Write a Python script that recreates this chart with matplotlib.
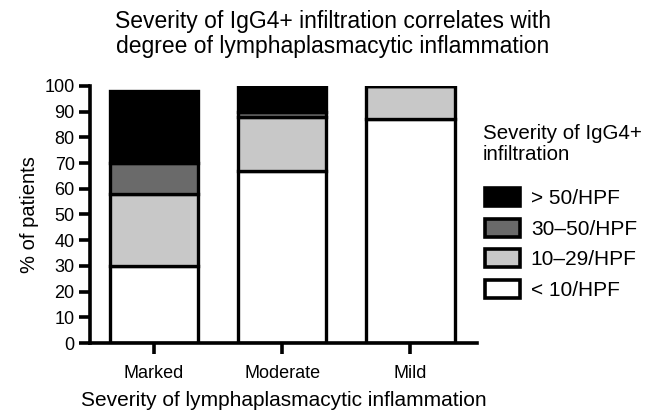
import matplotlib
matplotlib.use("Agg")
import matplotlib.pyplot as plt
from matplotlib.patches import Patch

plt.rcParams['font.family'] = ['Liberation Sans', 'DejaVu Sans']

categories = ["Marked", "Moderate", "Mild"]
series_names = ["< 10/HPF", "10\u201329/HPF", "30\u201350/HPF", "> 50/HPF"]
lt10 = [30, 67, 87]
s10_29 = [28, 21, 13]
s30_50 = [12, 2, 0]
gt50 = [28, 10, 0]
colors = ["#ffffff", "#c8c8c8", "#6a6a6a", "#000000"]

fig = plt.figure(figsize=(6.56, 4.11), dpi=100)
ax = fig.add_axes([90/656, 1 - 343/411, (477-90)/656, (343-86)/411])

x = list(range(len(categories)))
bottom = [0]*len(categories)
handles = []
for vals, col, name in zip([lt10, s10_29, s30_50, gt50], colors, series_names):
    ax.bar(x, vals, bottom=bottom, width=0.69, color=col, edgecolor="black", linewidth=2.4, zorder=2)
    bottom = [b + v for b, v in zip(bottom, vals)]
    handles.append(Patch(facecolor=col, edgecolor="black", linewidth=2.6, label=name))

ax.set_xlim(-0.5, 2.52)
ax.set_ylim(0, 100)
ax.set_yticks(range(0, 101, 10))
ax.set_xticks(x)
ax.set_xticklabels(categories)
for s in ["top", "right"]:
    ax.spines[s].set_visible(False)
for s in ["left", "bottom"]:
    ax.spines[s].set_linewidth(2.6)
ax.tick_params(axis="both", width=2.6, length=8, labelsize=13)
ax.tick_params(axis="y", pad=3)
ax.tick_params(axis="x", pad=8)
ax.set_ylabel("% of patients", fontsize=14.5, labelpad=4)
ax.set_xlabel("Severity of lymphaplasmacytic inflammation", fontsize=15, labelpad=6)

fig.text(333/656, 1 - 34/411, "Severity of IgG4+ infiltration correlates with\ndegree of lymphaplasmacytic inflammation",
         ha="center", va="center", fontsize=16.5, linespacing=1.15)
fig.text(483/656, 1 - 144/411, "Severity of IgG4+\ninfiltration", ha="left", va="center", fontsize=14.8, linespacing=1.1)

leg = fig.legend(handles=handles[::-1], loc="upper left", bbox_to_anchor=(485/656, 1 - 188/411),
                 frameon=False, fontsize=15, handlelength=1.7, handleheight=0.95, labelspacing=0.5,
                 handletextpad=0.5, borderaxespad=0, borderpad=0)

fig.savefig("out.png", dpi=100)
